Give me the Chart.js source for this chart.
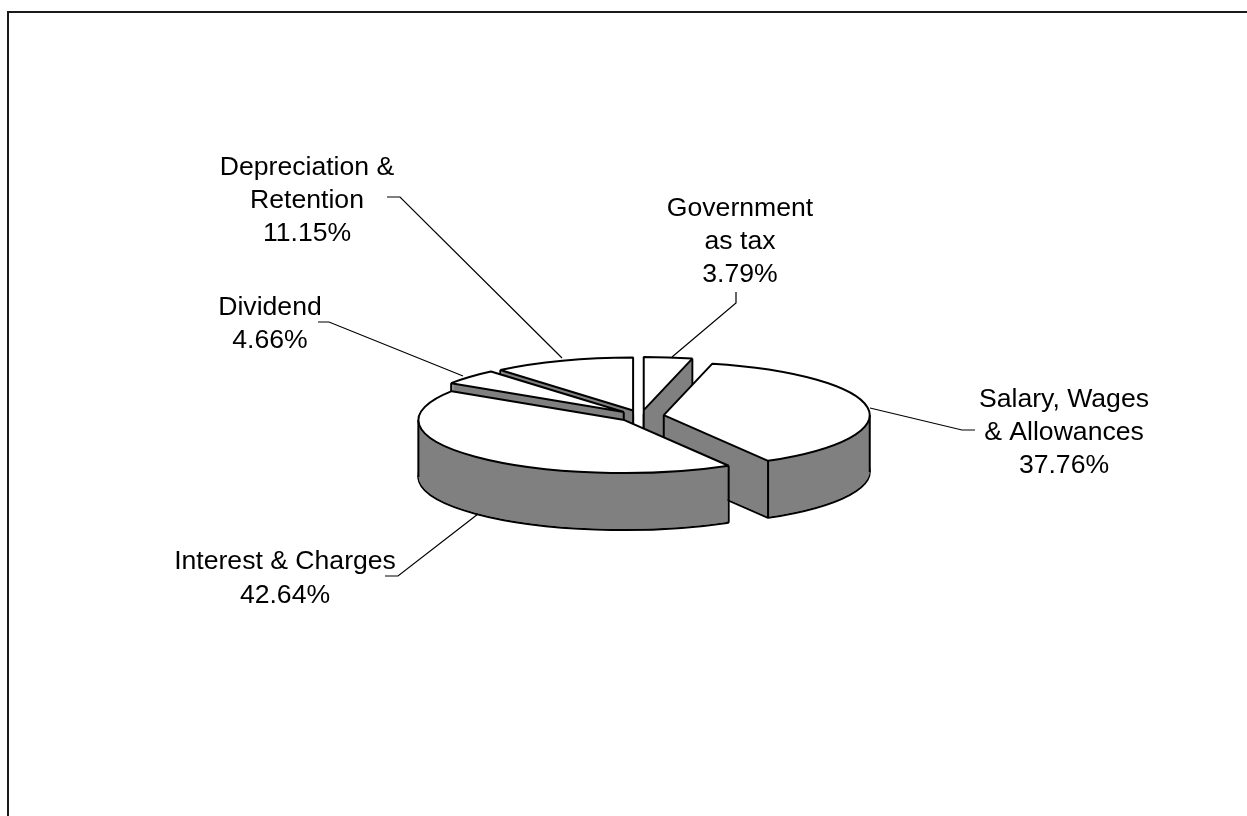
<!DOCTYPE html>
<html>
<head>
<meta charset="utf-8">
<style>html,body{margin:0;padding:0;background:#fff;overflow:hidden}canvas{display:block}</style>
<script src="https://cdn.jsdelivr.net/npm/chart.js@4"></script>
</head>
<body>
<canvas id="c" width="1247" height="816"></canvas>
<script>
const categories = ['Government as tax', 'Salary, Wages & Allowances', 'Interest & Charges', 'Dividend', 'Depreciation & Retention'];
const shares = [3.79, 37.76, 42.64, 4.66, 11.15];

const labelLines = [
  ['Government', 'as tax', '3.79%'],
  ['Salary, Wages', '& Allowances', '37.76%'],
  ['Interest & Charges', '42.64%'],
  ['Dividend', '4.66%'],
  ['Depreciation &', 'Retention', '11.15%']
];
const labelX = [740, 1064, 285, 270, 307];
const labelBaselines = [[216, 249, 282], [407, 440, 473], [569, 603], [315, 348], [175, 208, 241]];
const leaders = [
  [[736, 292], [736, 303], [672, 357]],
  [[870, 408], [962, 430], [975, 430]],
  [[385, 576], [398, 576], [478, 514]],
  [[318, 322], [329, 322], [463, 376]],
  [[387, 197], [400, 197], [562, 358]]
];

const PIE_X = 641, PIE_Y = 416, RADIUS = 206, SQUASH = 53 / 206, EXPLODE = 23, DEPTH = 57;
const DRAW_ORDER = [4, 0, 3, 1, 2];
const FACE = '#ffffff', SIDE = '#808080', INK = '#000000', EDGE = 2;

function placeSlice(ctx, el, depth) {
  const mid = (el.startAngle + el.endAngle) / 2;
  ctx.setTransform(1, 0, 0, SQUASH,
    PIE_X - el.x + Math.cos(mid) * EXPLODE,
    PIE_Y + depth + SQUASH * (Math.sin(mid) * EXPLODE - el.y));
}
function drawSlice(ctx, el, depth, fill, stroke) {
  const keep = el.options;
  el.options = Object.assign({}, keep, {
    backgroundColor: fill, borderColor: stroke || fill,
    borderWidth: stroke ? EDGE : 0, borderAlign: 'center', offset: 0, spacing: 0
  });
  placeSlice(ctx, el, depth);
  ctx.stroke = function () {
    CanvasRenderingContext2D.prototype.save.call(ctx);
    ctx.setTransform(1, 0, 0, 1, 0, 0);
    CanvasRenderingContext2D.prototype.stroke.call(ctx);
    CanvasRenderingContext2D.prototype.restore.call(ctx);
  };
  el.draw(ctx);
  delete ctx.stroke;
  el.options = keep;
}
function coveredByOwnTop(el, ox, oy, p) {
  const dx = p[0] - ox, dy = (p[1] + 3 - oy) / SQUASH;
  if (Math.hypot(dx, dy) >= RADIUS) return false;
  const TAU = 2 * Math.PI;
  let a = Math.atan2(dy, dx);
  while (a < el.startAngle - 1e-6) a += TAU;
  while (a > el.endAngle + TAU) a -= TAU;
  return a <= el.endAngle + 1e-3;
}
function verticalEdges(ctx, el) {
  const mid = (el.startAngle + el.endAngle) / 2;
  const ox = PIE_X + Math.cos(mid) * EXPLODE;
  const oy = PIE_Y + Math.sin(mid) * EXPLODE * SQUASH;
  const pts = [[ox, oy]];
  const angles = [el.startAngle, el.endAngle];
  [0, Math.PI].forEach(a => {
    [a, a + 2 * Math.PI, a - 2 * Math.PI].forEach(b => {
      if (b > el.startAngle && b < el.endAngle) angles.push(b);
    });
  });
  angles.forEach(a => pts.push([ox + Math.cos(a) * RADIUS, oy + Math.sin(a) * RADIUS * SQUASH]));
  ctx.setTransform(1, 0, 0, 1, 0, 0);
  ctx.strokeStyle = INK;
  ctx.lineWidth = EDGE;
  pts.forEach(p => {
    if (coveredByOwnTop(el, ox, oy, p)) return;
    ctx.beginPath();
    ctx.moveTo(p[0], p[1]);
    ctx.lineTo(p[0], p[1] + DEPTH);
    ctx.stroke();
  });
}

const extrudedPie = {
  id: 'extrudedPie',
  beforeDraw(chart) {
    const ctx = chart.ctx;
    ctx.save();
    ctx.fillStyle = '#fff';
    ctx.fillRect(0, 0, 1247, 816);
    ctx.strokeStyle = '#1a1a1a';
    ctx.lineWidth = 2;
    ctx.beginPath();
    ctx.moveTo(8, 816);
    ctx.lineTo(8, 12);
    ctx.lineTo(1247, 12);
    ctx.stroke();
    ctx.restore();
  },
  beforeDatasetsDraw(chart) {
    const ctx = chart.ctx;
    const arcs = chart.getDatasetMeta(0).data;
    ctx.save();
    DRAW_ORDER.forEach(i => {
      const el = arcs[i];
      drawSlice(ctx, el, DEPTH, SIDE, INK);
      for (let d = DEPTH - 1; d >= 0; d--) drawSlice(ctx, el, d, SIDE, null);
      verticalEdges(ctx, el);
      drawSlice(ctx, el, 0, FACE, INK);
    });
    ctx.restore();
    return false;
  },
  afterDraw(chart) {
    const ctx = chart.ctx;
    ctx.save();
    ctx.setTransform(1, 0, 0, 1, 0, 0);
    ctx.strokeStyle = INK;
    ctx.lineWidth = 1.2;
    leaders.forEach(l => {
      ctx.beginPath();
      l.forEach((p, j) => j ? ctx.lineTo(p[0], p[1]) : ctx.moveTo(p[0], p[1]));
      ctx.stroke();
    });
    ctx.fillStyle = INK;
    ctx.font = '26.6px "Liberation Sans", Arial, sans-serif';
    ctx.textAlign = 'center';
    ctx.textBaseline = 'alphabetic';
    labelLines.forEach((lines, i) => {
      lines.forEach((t, j) => ctx.fillText(t, labelX[i], labelBaselines[i][j]));
    });
    ctx.restore();
  }
};

new Chart(document.getElementById('c'), {
  type: 'pie',
  data: { labels: categories, datasets: [{ data: shares, backgroundColor: FACE, borderColor: INK, borderWidth: EDGE }] },
  options: {
    responsive: false,
    animation: false,
    radius: RADIUS,
    rotation: 0,
    events: [],
    plugins: { legend: { display: false }, tooltip: { enabled: false }, title: { display: false } }
  },
  plugins: [extrudedPie]
});
</script>
</body>
</html>
